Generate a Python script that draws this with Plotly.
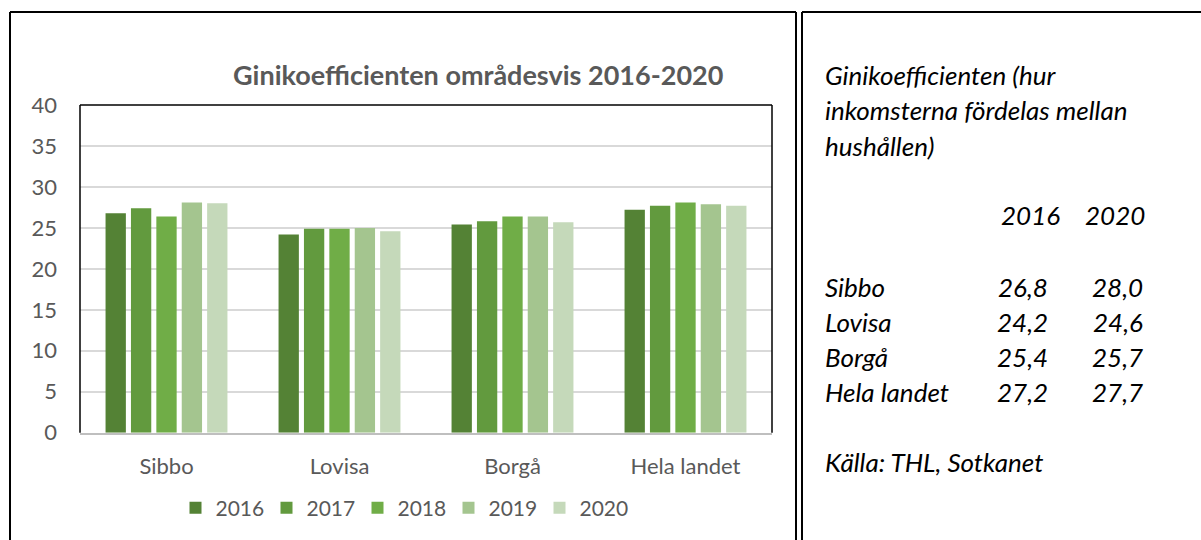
import plotly.graph_objects as go

categories = ["Sibbo", "Lovisa", "Borgå", "Hela landet"]
years = ["2016", "2017", "2018", "2019", "2020"]
values = {
    "2016": [26.8, 24.2, 25.4, 27.2],
    "2017": [27.4, 24.9, 25.8, 27.7],
    "2018": [26.4, 24.9, 26.4, 28.1],
    "2019": [28.1, 25.0, 26.4, 27.9],
    "2020": [28.0, 24.6, 25.7, 27.7],
}
colors = {
    "2016": "#548235",
    "2017": "#629A3E",
    "2018": "#70AD47",
    "2019": "#A4C58F",
    "2020": "#C5D9BA",
}
title_text = "Ginikoefficienten områdesvis 2016-2020"
side_title = ["Ginikoefficienten (hur", "inkomsterna fördelas mellan", "hushållen)"]
source_text = "Källa: THL, Sotkanet"

W, H = 1201, 540
FONT = "Lato"
GRAY = "#595959"

def px(x):
    return x / W

def py(y):
    return 1 - y / H

fig = go.Figure()
for yr in years:
    fig.add_trace(go.Bar(
        x=categories, y=values[yr], name=yr,
        marker=dict(color=colors[yr], line=dict(width=0)),
    ))

plot_l, plot_r, plot_t, plot_b = 80, 772, 105, 432.7

fig.update_layout(
    width=W, height=H,
    margin=dict(l=0, r=0, t=0, b=0, pad=0, autoexpand=False),
    paper_bgcolor="white", plot_bgcolor="white",
    barmode="group", bargap=0.266, bargroupgap=0.2,
    showlegend=True,
    legend=dict(orientation="h", x=px(403), xanchor="center", y=py(508), yanchor="middle",
                font=dict(family=FONT, size=21, color=GRAY), itemwidth=30,
                entrywidth=46, entrywidthmode="pixels",
                traceorder="normal", bgcolor="rgba(0,0,0,0)"),
    font=dict(family=FONT, color=GRAY),
    xaxis=dict(domain=[px(plot_l), px(plot_r)], showgrid=False, showline=True,
               linecolor="#BFBFBF", linewidth=1.5, ticks="", automargin=False,
               tickfont=dict(family=FONT, size=22, color=GRAY), ticklabelstandoff=13),
    yaxis=dict(domain=[py(plot_b), py(plot_t)], range=[0, 40], dtick=5,
               showgrid=True, gridcolor="#D9D9D9", gridwidth=1.5, zeroline=False,
               showline=False, ticks="", automargin=False,
               tickfont=dict(family=FONT, size=22, color=GRAY), ticklabelstandoff=22),
)

shapes = []
for (x0, y0, x1, y1) in [(plot_l, plot_t, plot_l, plot_b), (plot_l, plot_t, plot_r, plot_t),
                         (plot_r, plot_t, plot_r, plot_b)]:
    shapes.append(dict(type="line", xref="paper", yref="paper", x0=px(x0), y0=py(y0),
                       x1=px(x1), y1=py(y1), line=dict(color="black", width=1.5)))
frame_lines = [
    (10, 12, 10, 545), (10, 12, 796, 12), (796, 12, 796, 545),
    (802, 12, 802, 545), (802, 12, 1210, 12),
]
for (x0, y0, x1, y1) in frame_lines:
    shapes.append(dict(type="line", xref="paper", yref="paper", x0=px(x0), y0=py(y0),
                       x1=px(x1), y1=py(y1), line=dict(color="black", width=2)))
fig.update_layout(shapes=shapes)

ann = []
ann.append(dict(text="<b>" + title_text + "</b>", x=px(478), y=py(75), xref="paper", yref="paper",
                xanchor="center", yanchor="middle", showarrow=False,
                font=dict(family=FONT, size=27, color=GRAY)))

TXT = dict(family=FONT, size=26, color="black")
for i, line in enumerate(side_title):
    ann.append(dict(text="<i>" + line + "</i>", x=px(823), y=py(75 + 35.5 * i), xref="paper", yref="paper",
                    xanchor="left", yanchor="middle", showarrow=False, font=TXT))
ann.append(dict(text="<i>" + years[0] + "</i>", x=px(1062), y=py(215), xref="paper", yref="paper",
                xanchor="right", yanchor="middle", showarrow=False, font=TXT))
ann.append(dict(text="<i>" + years[-1] + "</i>", x=px(1147), y=py(215), xref="paper", yref="paper",
                xanchor="right", yanchor="middle", showarrow=False, font=TXT))
row_y = [287, 322, 357, 392]
for i, cat in enumerate(categories):
    ann.append(dict(text="<i>" + cat + "</i>", x=px(823), y=py(row_y[i]), xref="paper", yref="paper",
                    xanchor="left", yanchor="middle", showarrow=False, font=TXT))
    v0 = f"{values[years[0]][i]:.1f}".replace(".", ",")
    v1 = f"{values[years[-1]][i]:.1f}".replace(".", ",")
    ann.append(dict(text="<i>" + v0 + "</i>", x=px(1050), y=py(row_y[i]), xref="paper", yref="paper",
                    xanchor="right", yanchor="middle", showarrow=False, font=TXT))
    ann.append(dict(text="<i>" + v1 + "</i>", x=px(1145), y=py(row_y[i]), xref="paper", yref="paper",
                    xanchor="right", yanchor="middle", showarrow=False, font=TXT))
ann.append(dict(text="<i>" + source_text + "</i>", x=px(823), y=py(462), xref="paper", yref="paper",
                xanchor="left", yanchor="middle", showarrow=False, font=TXT))
fig.update_layout(annotations=ann)

fig.write_html("out.html", config={"displayModeBar": False},
               post_script="document.body.style.margin='0';document.body.style.overflow='hidden';")
